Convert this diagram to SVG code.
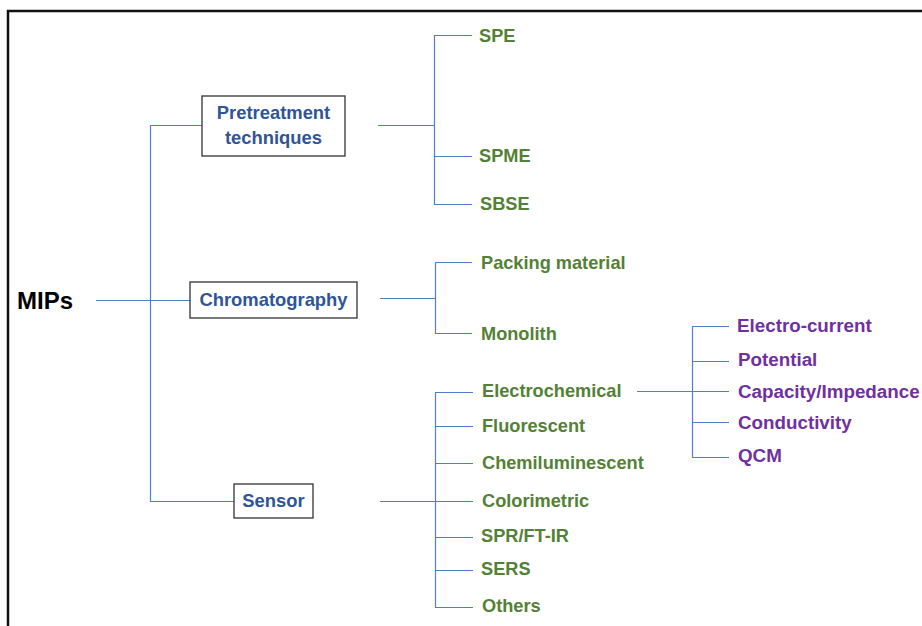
<svg xmlns="http://www.w3.org/2000/svg" width="922" height="626" viewBox="0 0 922 626">
<style>
.frame{fill:none;stroke:#111;stroke-width:2.5}
.box{fill:#fff;stroke:#333;stroke-width:1.3}
.c{fill:none;stroke:#4F7FCF;stroke-width:1.2}
text{font-family:"Liberation Sans",Arial,sans-serif;font-weight:bold}
.root{font-size:24px;fill:#000}
.cat{font-size:18.4px;fill:#2F5597;text-anchor:middle}
.g{font-size:18.2px;fill:#538135}
.p{font-size:18.8px;fill:#7030A0}
</style>
<rect width="922" height="626" fill="#fff"/>
<path class="frame" d="M8,640 V11 H930"/>
<g id="connectors">
<path class="c" d="M96,300.5 H190"/>
<path class="c" d="M202,125.5 H150.5 V501.5 H234"/>
<path class="c" d="M378,125.5 H435"/>
<path class="c" d="M472,35.5 H434.5 V204.5 H472"/>
<path class="c" d="M434.5,156.5 H472"/>
<path class="c" d="M380,298.5 H435"/>
<path class="c" d="M472,262.5 H435.5 V333.5 H472"/>
<path class="c" d="M380,501.5 H473"/>
<path class="c" d="M473,392.5 H435.5 V607.5 H473"/>
<path class="c" d="M435.5,426.5 H473 M435.5,463.5 H473 M435.5,537.5 H473 M435.5,570.5 H473"/>
<path class="c" d="M637,391.5 H729"/>
<path class="c" d="M729,326.5 H692.5 V457.5 H729"/>
<path class="c" d="M692.5,361.5 H729 M692.5,422.5 H729"/>
</g>
<g id="mips"><text class="root" x="17" y="309">MIPs</text></g>
<g id="pretreatment"><rect class="box" x="202" y="96" width="143" height="60"/><text class="cat" x="273.5" y="119">Pretreatment</text><text class="cat" x="273.5" y="144">techniques</text></g>
<g id="chromatography"><rect class="box" x="190" y="282" width="167" height="36"/><text class="cat" x="273.5" y="306">Chromatography</text></g>
<g id="sensor"><rect class="box" x="234" y="484" width="79" height="34"/><text class="cat" x="273.5" y="507">Sensor</text></g>
<g id="spe"><text class="g" x="479" y="42">SPE</text></g>
<g id="spme"><text class="g" x="479" y="162">SPME</text></g>
<g id="sbse"><text class="g" x="480" y="210">SBSE</text></g>
<g id="packing"><text class="g" x="481" y="269">Packing material</text></g>
<g id="monolith"><text class="g" x="481" y="340">Monolith</text></g>
<g id="electrochemical"><text class="g" x="482" y="397">Electrochemical</text></g>
<g id="fluorescent"><text class="g" x="482" y="432">Fluorescent</text></g>
<g id="chemiluminescent"><text class="g" x="482" y="469">Chemiluminescent</text></g>
<g id="colorimetric"><text class="g" x="482" y="507">Colorimetric</text></g>
<g id="spr"><text class="g" x="481" y="542">SPR/FT-IR</text></g>
<g id="sers"><text class="g" x="481" y="575">SERS</text></g>
<g id="others"><text class="g" x="482" y="612">Others</text></g>
<g id="electrocurrent"><text class="p" x="737" y="332">Electro-current</text></g>
<g id="potential"><text class="p" x="738" y="366">Potential</text></g>
<g id="capacity"><text class="p" x="738" y="398">Capacity/Impedance</text></g>
<g id="conductivity"><text class="p" x="738" y="429">Conductivity</text></g>
<g id="qcm"><text class="p" x="738" y="462">QCM</text></g>
</svg>
